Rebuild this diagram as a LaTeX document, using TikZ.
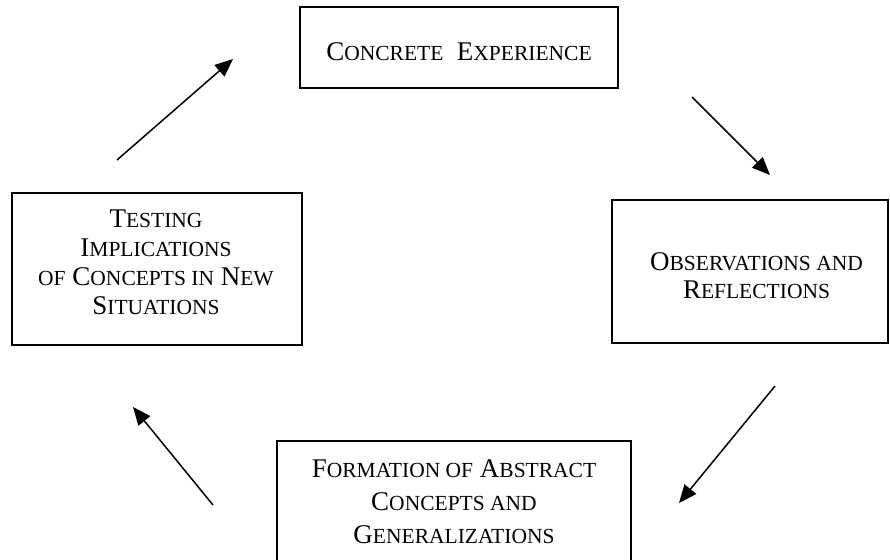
\documentclass[tikz,border=0pt]{standalone}
\usepackage{fontspec}
\setmainfont{Liberation Serif}
\usetikzlibrary{arrows.meta}
\newcommand\sm[1]{{\fontsize{21.5}{21.5}\selectfont #1}}
\tikzset{
  boxshape/.style={draw=black, line width=1.6pt, fill=none, inner sep=0pt},
  lbl/.style={align=center, inner sep=0pt, font=\fontsize{27}{29}\selectfont},
  flow/.style={line width=1.5pt, -{Triangle[length=18pt,width=15pt]}}
}
\begin{document}
\begin{tikzpicture}[x=1pt,y=-1pt]
\useasboundingbox (0,0) rectangle (890,559);
\clip (0,0) rectangle (890,559);
% boxes
\node[boxshape, minimum width=318pt, minimum height=81pt] (ce) at (459,47.5) {};
\node[boxshape, minimum width=290pt, minimum height=152pt] (te) at (157,269) {};
\node[boxshape, minimum width=276pt, minimum height=143pt] (ob) at (750,271.5) {};
\node[boxshape, minimum width=354pt, minimum height=140pt] (fo) at (454,511) {};
% labels
\node[lbl] (cet) at (459,52) {C\sm{ONCRETE}\ \ E\sm{XPERIENCE}};
\node[lbl] (tet) at (156,262.5) {T\sm{ESTING}\\ I\sm{MPLICATIONS}\\ \sm{OF} C\sm{ONCEPTS IN} N\sm{EW}\\ S\sm{ITUATIONS}};
\node[lbl, font=\fontsize{27}{28}\selectfont] (obt) at (756.5,276) {O\sm{BSERVATIONS AND}\\ R\sm{EFLECTIONS}};
\node[lbl, font=\fontsize{27}{33}\selectfont] (fot) at (454,502) {F\sm{ORMATION OF} A\sm{BSTRACT}\\ C\sm{ONCEPTS AND}\\ G\sm{ENERALIZATIONS}};
% arrow end points
\coordinate (a1s) at (117,160);
\coordinate (a1e) at (233,59);
\coordinate (a2s) at (692,97);
\coordinate (a2e) at (770,175);
\coordinate (a3s) at (775,386);
\coordinate (a3e) at (679,503);
\coordinate (a4s) at (213,505);
\coordinate (a4e) at (133,407);
\draw[flow] (a1s) -- (a1e);
\draw[flow] (a2s) -- (a2e);
\draw[flow] (a3s) -- (a3e);
\draw[flow] (a4s) -- (a4e);
\end{tikzpicture}
\end{document}
